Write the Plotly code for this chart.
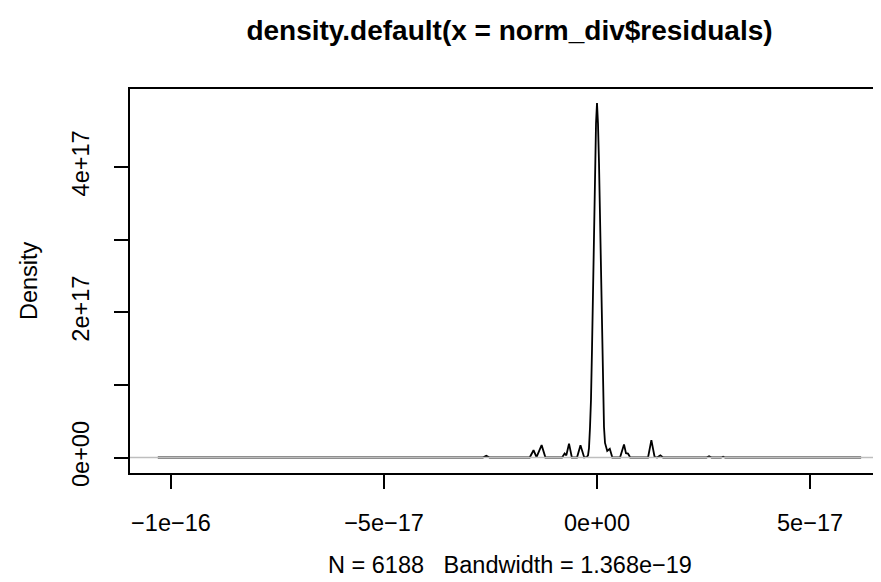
import plotly.graph_objects as go

# ---- data (x in units of 1e-17, density in units of 1e17) ----
X_UNIT = 1e-17
Y_UNIT = 1e17

dens_x = [-10.31, -2.68, -2.60, -2.52, -1.58, -1.49, -1.42, -1.30, -1.21,
          -0.82, -0.76, -0.72, -0.657, -0.59, -0.47, -0.388, -0.30, -0.258,
          -0.235, -0.211, -0.188, -0.164, -0.141, -0.117, -0.094, -0.070,
          -0.047, -0.023, 0.0, 0.023, 0.047, 0.070, 0.094, 0.117, 0.141,
          0.164, 0.188, 0.211, 0.24, 0.30, 0.36, 0.54, 0.634, 0.68, 0.728,
          0.78, 1.198, 1.276, 1.351, 1.41, 1.487, 1.55, 2.57, 2.63, 2.69,
          2.91, 2.96, 3.01, 6.20]
dens_y = [0, 0, 0.023, 0, 0, 0.10, 0.005, 0.17, 0,
          0, 0.055, 0.03, 0.19, 0, 0, 0.17, 0, 0,
          0.01, 0.03, 0.13, 0.42, 0.8, 1.5, 2.35, 3.25,
          4.05, 4.6, 4.88, 4.6, 4.05, 3.25, 2.35, 1.5, 0.8,
          0.42, 0.2, 0.13, 0.09, 0.12, 0, 0, 0.18, 0.06, 0.055,
          0, 0, 0.24, 0.01, 0, 0.03, 0, 0, 0.018, 0,
          0, 0.01, 0, 0]

x_tick_vals = [-10, -5, 0, 5]
x_tick_text = ["\u22121e\u221216", "\u22125e\u221217", "0e+00", "5e\u221217"]
y_tick_vals = [0, 1, 2, 3, 4]
y_tick_text = ["0e+00", "", "2e+17", "", "4e+17"]

title_text = "density.default(x = norm_div$residuals)"
x_title = "N = 6188\u00a0\u00a0\u00a0Bandwidth = 1.368e\u221219"
y_title = "Density"

x_range = [-10.962, 6.854]
y_range = [-0.2134, 5.072]

FONT = "Liberation Sans, Arial, Helvetica, sans-serif"

xs = [v * X_UNIT for v in dens_x]
ys = [v * Y_UNIT for v in dens_y]

fig = go.Figure()
fig.add_trace(go.Scatter(x=xs, y=ys, mode="lines",
                         line=dict(color="black", width=1.8),
                         hoverinfo="skip", showlegend=False))

W, H = 881, 582
L, R, T, B = 122, 0, 81, 117
plot_h = H - T - B
plot_w = W - L - R

fig.update_layout(
    width=W, height=H,
    margin=dict(l=L, r=R, t=T, b=B, pad=0),
    paper_bgcolor="white", plot_bgcolor="white",
    font=dict(family=FONT, size=23.5, color="black"),
    title=dict(text="<b>" + title_text + "</b>", x=0.5, xref="paper",
               y=1 - 22.5 / H, yref="container", yanchor="middle",
               xanchor="center", font=dict(family=FONT, size=28, color="black")),
    showlegend=False,
    xaxis=dict(range=[v * X_UNIT for v in x_range], showgrid=False, zeroline=False,
               showline=True, mirror=True, linecolor="black", linewidth=1.5,
               ticks="outside", ticklen=14, tickwidth=1.5, tickcolor="black",
               tickvals=[v * X_UNIT for v in x_tick_vals], ticktext=x_tick_text,
               ticklabelstandoff=14,
               tickfont=dict(family=FONT, size=23.5, color="black")),
    yaxis=dict(range=[v * Y_UNIT for v in y_range], showgrid=False, zeroline=False,
               showline=True, mirror=False, linecolor="black", linewidth=1.5,
               ticks="outside", ticklen=14, tickwidth=1.5, tickcolor="black",
               tickvals=[v * Y_UNIT for v in y_tick_vals], ticktext=y_tick_text,
               tickangle=-90, ticklabelstandoff=16,
               tickfont=dict(family=FONT, size=23.5, color="black")),
)

# zero line (R draws it in gray over the curve)
fig.add_shape(type="line", xref="paper", yref="y", x0=0, x1=1, y0=0, y1=0,
              line=dict(color="#bebebe", width=1.3), layer="above")

fig.add_annotation(text=x_title, xref="paper", yref="paper", x=0.5,
                   y=-(557 - (H - B)) / plot_h, xanchor="center", yanchor="middle",
                   showarrow=False, borderpad=0,
                   font=dict(family=FONT, size=23.5, color="black"))
fig.add_annotation(text=y_title, xref="paper", yref="paper",
                   x=-(L - 21) / plot_w, y=0.5, xanchor="center", yanchor="middle",
                   textangle=-90, showarrow=False,
                   font=dict(family=FONT, size=23.5, color="black"))

fig.write_html("out.html")
